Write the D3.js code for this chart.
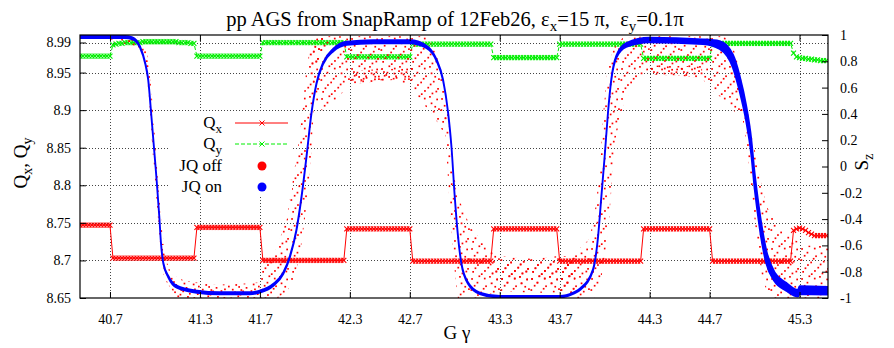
<!DOCTYPE html>
<html>
<head>
<script src="https://d3js.org/d3.v7.min.js"></script>
<style>
body { margin: 0; background: white; }
svg text { font-family: "Liberation Serif", "Times New Roman", serif; }
</style>
</head>
<body>
<div id="chart"></div>
<script>
// ---- tunes, sampled every 0.02 in G gamma starting at 40.50 ----
var g0 = 40.5, dg = 0.02;

var qx = [
  // 40.50 - 40.70
  8.747,8.747,8.747,8.747,8.747,8.747,8.747,8.747,8.747,8.747,8.747,
  // 40.72 - 41.26
  8.703,8.703,8.703,8.703,8.703,8.703,8.703,8.703,8.703,8.703,
  8.703,8.703,8.703,8.703,8.703,8.703,8.703,8.703,8.703,8.703,
  8.703,8.703,8.703,8.703,8.703,8.703,8.703,8.703,
  // 41.28 - 41.70
  8.744,8.744,8.744,8.744,8.744,8.744,8.744,8.744,8.744,8.744,
  8.744,8.744,8.744,8.744,8.744,8.744,8.744,8.744,8.744,8.744,
  8.744,8.744,
  // 41.72 - 42.26
  8.700,8.700,8.700,8.700,8.700,8.700,8.700,8.700,8.700,8.700,
  8.700,8.700,8.700,8.700,8.700,8.700,8.700,8.700,8.700,8.700,
  8.700,8.700,8.700,8.700,8.700,8.700,8.700,8.700,
  // 42.28 - 42.70
  8.742,8.742,8.742,8.742,8.742,8.742,8.742,8.742,8.742,8.742,
  8.742,8.742,8.742,8.742,8.742,8.742,8.742,8.742,8.742,8.742,
  8.742,8.742,
  // 42.72 - 43.24
  8.699,8.699,8.699,8.699,8.699,8.699,8.699,8.699,8.699,8.699,
  8.699,8.699,8.699,8.699,8.699,8.699,8.699,8.699,8.699,8.699,
  8.699,8.699,8.699,8.699,8.699,8.699,8.699,
  // 43.26 - 43.68
  8.742,8.742,8.742,8.742,8.742,8.742,8.742,8.742,8.742,8.742,
  8.742,8.742,8.742,8.742,8.742,8.742,8.742,8.742,8.742,8.742,
  8.742,8.742,
  // 43.70 - 44.24
  8.699,8.699,8.699,8.699,8.699,8.699,8.699,8.699,8.699,8.699,
  8.699,8.699,8.699,8.699,8.699,8.699,8.699,8.699,8.699,8.699,
  8.699,8.699,8.699,8.699,8.699,8.699,8.699,8.699,
  // 44.26 - 44.70
  8.742,8.742,8.742,8.742,8.742,8.742,8.742,8.742,8.742,8.742,
  8.742,8.742,8.742,8.742,8.742,8.742,8.742,8.742,8.742,8.742,
  8.742,8.742,8.742,
  // 44.72 - 45.24
  8.699,8.699,8.699,8.699,8.699,8.699,8.699,8.699,8.699,8.699,
  8.699,8.699,8.699,8.699,8.699,8.699,8.699,8.699,8.699,8.699,
  8.699,8.699,8.699,8.699,8.699,8.699,8.699,
  // 45.26 - 45.48
  8.740,8.742,8.743,8.742,8.740,8.737,8.735,8.733,8.733,8.733,8.733,8.733
];

var qy = [
  // 40.50 - 40.70
  8.972,8.972,8.972,8.972,8.972,8.972,8.972,8.972,8.972,8.972,8.972,
  // 40.72 - 41.26
  8.987,8.988,8.989,8.989,8.990,8.990,8.990,8.990,8.990,8.990,
  8.991,8.991,8.991,8.991,8.991,8.991,8.991,8.991,8.991,8.991,
  8.991,8.991,8.990,8.990,8.990,8.990,8.989,8.989,
  // 41.28 - 41.70
  8.972,8.972,8.972,8.972,8.972,8.972,8.972,8.972,8.972,8.972,
  8.972,8.972,8.972,8.972,8.972,8.972,8.972,8.972,8.972,8.972,
  8.972,8.972,
  // 41.72 - 42.26
  8.990,8.990,8.990,8.990,8.990,8.990,8.990,8.990,8.990,8.990,
  8.990,8.990,8.990,8.990,8.990,8.990,8.990,8.990,8.990,8.990,
  8.990,8.990,8.990,8.990,8.990,8.990,8.990,8.990,
  // 42.28 - 42.70
  8.971,8.971,8.971,8.971,8.971,8.971,8.971,8.971,8.971,8.971,
  8.971,8.971,8.971,8.971,8.971,8.971,8.971,8.971,8.971,8.971,
  8.971,8.971,
  // 42.72 - 43.24
  8.988,8.988,8.988,8.988,8.988,8.988,8.988,8.988,8.988,8.988,
  8.988,8.988,8.988,8.988,8.988,8.988,8.988,8.988,8.988,8.988,
  8.988,8.988,8.988,8.988,8.988,8.988,8.988,
  // 43.26 - 43.68
  8.970,8.970,8.970,8.970,8.970,8.970,8.970,8.970,8.970,8.970,
  8.970,8.970,8.970,8.970,8.970,8.970,8.970,8.970,8.970,8.970,
  8.970,8.970,
  // 43.70 - 44.24
  8.988,8.988,8.988,8.988,8.988,8.988,8.988,8.988,8.988,8.988,
  8.988,8.988,8.988,8.988,8.988,8.988,8.988,8.988,8.988,8.988,
  8.988,8.988,8.988,8.988,8.988,8.988,8.988,8.988,
  // 44.26 - 44.70
  8.969,8.969,8.969,8.969,8.969,8.969,8.969,8.969,8.969,8.969,
  8.969,8.969,8.969,8.969,8.969,8.969,8.969,8.969,8.969,8.969,
  8.969,8.969,8.969,
  // 44.72 - 45.24
  8.989,8.989,8.989,8.989,8.989,8.989,8.989,8.989,8.989,8.989,
  8.989,8.989,8.989,8.989,8.989,8.989,8.989,8.989,8.989,8.989,
  8.989,8.989,8.989,8.989,8.989,8.989,8.989,
  // 45.26 - 45.48
  8.976,8.971,8.970,8.969,8.969,8.968,8.968,8.967,8.967,8.966,8.966,8.966
];

// ---- S_z with jump quads on (blue): G gamma, S_z, half width of the band ----
var onG = [40.50,40.80,40.85,40.90,40.935,40.955,40.975,40.993,41.011,41.029,41.04,41.056,41.09,41.145,
  41.28,41.43,41.63,41.70,41.79,41.856,41.90,41.944,41.978,42.011,42.044,42.078,42.122,42.19,42.28,
  42.456,42.70,42.81,42.878,42.922,42.956,42.978,43.00,43.022,43.044,43.089,43.167,43.30,43.70,43.79,
  43.84,43.922,43.956,43.978,44.00,44.022,44.044,44.078,44.144,44.30,44.656,44.767,44.856,44.90,44.944,
  44.978,45.00,45.022,45.044,45.078,45.133,45.211,45.29,45.30,45.49];
var onS = [0.985,0.985,0.975,0.91,0.785,0.66,0.40,0.15,-0.10,-0.38,-0.58,-0.736,-0.84,-0.914,
  -0.952,-0.964,-0.964,-0.952,-0.90,-0.812,-0.686,-0.483,-0.229,0.075,0.405,0.633,0.785,0.886,0.937,
  0.949,0.949,0.911,0.81,0.658,0.405,0.151,-0.23,-0.534,-0.736,-0.888,-0.964,-0.99,-0.99,-0.964,
  -0.93,-0.787,-0.534,-0.23,0.075,0.405,0.658,0.835,0.924,0.962,0.949,0.924,0.80,0.633,0.405,
  0.151,-0.103,-0.306,-0.483,-0.686,-0.838,-0.914,-0.964,-0.94,-0.945];
var onW = [0.008,0.008,0.008,0.006,0.005,0.005,0.005,0.005,0.005,0.005,0.005,0.005,0.006,0.008,
  0.008,0.008,0.008,0.008,0.008,0.006,0.005,0.005,0.005,0.005,0.005,0.005,0.006,0.01,0.012,
  0.012,0.012,0.01,0.006,0.005,0.005,0.005,0.005,0.005,0.005,0.006,0.006,0.006,0.006,0.006,
  0.006,0.005,0.005,0.005,0.005,0.005,0.005,0.008,0.015,0.018,0.018,0.03,0.05,0.06,0.06,
  0.06,0.06,0.06,0.06,0.05,0.035,0.03,0.025,0.03,0.03];

// ---- S_z with jump quads off (red): outlines of the scattered clouds [G gamma, S_z] ----
var offFall1 = [[40.70,1.0],[40.86,1.0],[40.92,0.95],[40.95,0.85],[40.975,0.6],[40.995,0.3],[41.02,-0.1],
  [41.045,-0.45],[41.07,-0.7],[41.11,-0.82],[41.2,-0.87],[41.4,-0.9],[41.6,-0.89],[41.72,-0.88],[41.72,-1.0],
  [41.15,-1.0],[41.06,-0.85],[41.035,-0.6],[41.01,-0.25],[40.985,0.1],[40.965,0.45],[40.945,0.7],[40.92,0.85],
  [40.87,0.91],[40.78,0.94],[40.70,0.96]];
var offRise1 = [[41.70,-1.0],[41.70,-0.8],[41.80,-0.65],[41.88,-0.4],[41.92,-0.1],[41.96,0.2],[41.99,0.5],
  [42.01,0.75],[42.04,0.92],[42.08,0.98],[42.15,0.98],[42.12,0.9],[42.07,0.75],[42.06,0.5],[42.05,0.2],
  [42.03,-0.1],[42.0,-0.4],[41.97,-0.65],[41.93,-0.85],[41.88,-0.95],[41.82,-1.0]];
var offTop1 = [[42.06,0.5],[42.04,0.85],[42.1,0.99],[42.82,0.99],[42.88,0.85],[42.93,0.6],[42.96,0.4],
  [42.93,0.25],[42.85,0.4],[42.77,0.5],[42.72,0.6],[42.6,0.66],[42.4,0.65],[42.3,0.62],[42.2,0.5],[42.12,0.42]];
var offTop1Edge = [[42.3,0.62],[42.6,0.66],[42.72,0.66],[42.72,0.75],[42.3,0.73]];
var offFall2 = [[42.94,0.45],[42.97,0.2],[42.99,-0.05],[43.03,-0.25],[43.1,-0.45],[43.2,-0.6],[43.3,-0.68],
  [43.5,-0.7],[43.7,-0.68],[43.8,-0.68],[43.8,-0.96],[43.5,-0.96],[43.3,-0.95],[43.15,-1.0],[43.02,-1.0],
  [43.0,-0.8],[42.98,-0.5],[42.96,-0.2],[42.945,0.1],[42.93,0.35]];
var offFall2Core = [[43.25,-0.72],[43.8,-0.72],[43.8,-0.9],[43.25,-0.9]];
var offRise2 = [[43.70,-0.7],[43.8,-0.66],[43.9,-0.55],[43.94,-0.3],[43.97,0.0],[43.99,0.4],[44.02,0.75],
  [44.06,0.9],[44.12,0.98],[44.3,0.99],[44.3,0.72],[44.2,0.65],[44.12,0.45],[44.07,0.2],[44.05,-0.1],
  [44.03,-0.4],[44.0,-0.7],[43.97,-0.9],[43.93,-1.0],[43.75,-1.0],[43.7,-0.95]];
var offTop2 = [[44.3,0.99],[44.8,0.99],[44.86,0.9],[44.9,0.75],[44.93,0.5],[44.92,0.35],[44.88,0.4],
  [44.8,0.5],[44.7,0.6],[44.65,0.67],[44.5,0.69],[44.3,0.7]];
var offTop2Edge = [[44.3,0.7],[44.65,0.68],[44.65,0.76],[44.3,0.77]];
var offFall3 = [[44.85,0.8],[44.9,0.6],[44.95,0.45],[44.99,0.2],[45.03,-0.05],[45.08,-0.3],[45.15,-0.45],
  [45.25,-0.55],[45.35,-0.6],[45.49,-0.6],[45.49,-1.0],[45.1,-1.0],[45.05,-0.85],[45.02,-0.6],[44.99,-0.3],
  [44.96,0.0],[44.93,0.3],[44.89,0.55],[44.85,0.7]];

var offClouds = [
  [offFall1, "dense"], [offRise1, "medium"], [offTop1, "medium"], [offTop1Edge, "dense"],
  [offFall2, "medium"], [offFall2Core, "medium"], [offRise2, "medium"], [offTop2, "medium"],
  [offTop2Edge, "dense"], [offFall3, "medium"]
];

// ---- axes ----
var xTicks = [40.7, 41.3, 41.7, 42.3, 42.7, 43.3, 43.7, 44.3, 44.7, 45.3];
var qTicks = [8.65, 8.7, 8.75, 8.8, 8.85, 8.9, 8.95, 8.99];
var szTicks = [-1, -0.8, -0.6, -0.4, -0.2, 0, 0.2, 0.4, 0.6, 0.8, 1];

var serif = "'Liberation Serif', 'Times New Roman', serif";
var W = 894, H = 348;
var margin = { top: 35, right: 66, bottom: 50, left: 80 };
var width = W - margin.left - margin.right;
var height = H - margin.top - margin.bottom;

var svg = d3.select("#chart").append("svg").attr("width", W).attr("height", H);
var defs = svg.append("defs");
defs.append("clipPath").attr("id", "plotclip")
  .append("rect").attr("width", width).attr("height", height);

// speckle tiles (30x30, jittered) used to paint the red clouds
var tileMedium = [[1.2,3.1],[8.5,0.4],[13.9,2.7],[19.1,1.0],[26.3,3.6],
  [3.8,9.9],[6.6,6.8],[15.2,10.4],[20.7,7.5],[24.4,10.9],
  [0.5,14.2],[10.3,16.6],[12.8,12.9],[22.9,15.8],[28.1,13.3],
  [4.6,22.4],[7.1,19.2],[17.4,21.8],[19.8,18.6],[27.2,23.0],
  [2.3,26.0],[10.9,28.3],[14.1,25.1],[21.6,27.6],[25.5,25.7]];
var tileDense = [[0.8,2.9],[6.7,0.3],[11.2,3.6],[16.9,1.4],[21.3,3.9],[27.5,0.8],
  [3.1,6.2],[5.4,9.1],[13.6,7.7],[18.2,5.3],[22.8,8.6],[25.6,6.4],
  [1.9,13.8],[8.3,11.1],[10.5,14.2],[15.7,12.0],[24.1,13.5],[28.0,10.7],
  [4.2,16.4],[9.6,18.8],[12.3,15.5],[19.0,17.9],[20.6,15.2],[26.9,18.3],
  [0.3,22.6],[7.4,20.5],[14.8,23.7],[17.1,21.0],[23.5,22.2],[28.6,24.0],
  [2.7,27.4],[5.9,25.3],[11.8,28.6],[18.6,26.1],[21.9,28.9],[25.2,26.8]];
var tiles = { dense: tileDense, medium: tileMedium };
Object.keys(tiles).forEach(function(k) {
  var p = defs.append("pattern").attr("id", "dots-" + k)
    .attr("patternUnits", "userSpaceOnUse").attr("width", 30).attr("height", 30);
  p.selectAll("rect").data(tiles[k]).enter().append("rect")
    .attr("x", d => d[0]).attr("y", d => d[1])
    .attr("width", 1.7).attr("height", 1.7).attr("fill", "#ff0000");
});

var chart = svg.append("g").attr("transform", `translate(${margin.left},${margin.top})`);

var x = d3.scaleLinear().domain([40.5, 45.49]).range([0, width]);
var yQ = d3.scaleLinear().domain([8.65, 9.0]).range([height, 0]);
var yS = d3.scaleLinear().domain([-1, 1]).range([height, 0]);

// grid
var grid = chart.append("g").attr("stroke", "#444").attr("stroke-width", 1)
  .attr("stroke-dasharray", "1,2").attr("shape-rendering", "crispEdges");
grid.selectAll(".gx").data(xTicks).enter().append("line")
  .attr("x1", d => Math.round(x(d)) + 0.5).attr("x2", d => Math.round(x(d)) + 0.5)
  .attr("y1", 0).attr("y2", height);
grid.selectAll(".gy").data(qTicks.slice(1)).enter().append("line")
  .attr("y1", d => Math.round(yQ(d)) + 0.5).attr("y2", d => Math.round(yQ(d)) + 0.5)
  .attr("x1", 0).attr("x2", width);

var plot = chart.append("g").attr("clip-path", "url(#plotclip)");

var crossPath = "M-2.5,-2.5L2.5,2.5M-2.5,2.5L2.5,-2.5";
function drawTune(vals, color, dash) {
  var pts = vals.map((v, i) => [g0 + dg * i, v]);
  plot.append("path")
    .attr("d", d3.line().x(d => x(d[0])).y(d => yQ(d[1]))(pts))
    .attr("fill", "none").attr("stroke", color).attr("stroke-width", 1)
    .attr("stroke-dasharray", dash);
  plot.append("g").selectAll("path").data(pts).enter().append("path")
    .attr("d", crossPath)
    .attr("transform", d => `translate(${x(d[0])},${yQ(d[1])})`)
    .attr("fill", "none").attr("stroke", color).attr("stroke-width", 1.1);
}
drawTune(qx, "#ff0000", null);
drawTune(qy, "#00ee00", "4,2");

// JQ off clouds
var cloudLine = d3.line().x(d => x(d[0])).y(d => yS(d[1])).curve(d3.curveLinearClosed);
plot.append("g").selectAll("path").data(offClouds).enter().append("path")
  .attr("d", d => cloudLine(d[0]))
  .attr("fill", d => "url(#dots-" + d[1] + ")");

// JQ on band
var onIdx = d3.range(onG.length);
var band = d3.area()
  .x(i => x(onG[i]))
  .y0(i => yS(onS[i] - onW[i]))
  .y1(i => yS(onS[i] + onW[i]))
  .curve(d3.curveMonotoneX);
plot.append("path").attr("d", band(onIdx))
  .attr("fill", "#0000ff").attr("stroke", "#0000ff").attr("stroke-width", 1.8);

// border
chart.append("rect").attr("width", width).attr("height", height)
  .attr("fill", "none").attr("stroke", "#000").attr("stroke-width", 1.2);

function styleAxis(sel) {
  sel.select(".domain").remove();
  sel.selectAll("text").attr("font-family", serif).attr("font-size", 14).attr("fill", "#000");
  sel.selectAll("line").attr("stroke", "#000");
}
chart.append("g").attr("transform", `translate(0,${height})`)
  .call(d3.axisBottom(x).tickValues(xTicks).tickFormat(d3.format(".1f"))
    .tickSizeInner(-6).tickSizeOuter(0).tickPadding(16))
  .call(styleAxis);
chart.append("g")
  .call(d3.axisTop(x).tickValues(xTicks).tickFormat("").tickSizeInner(-6).tickSizeOuter(0))
  .call(styleAxis);
chart.append("g")
  .call(d3.axisLeft(yQ).tickValues(qTicks).tickFormat(d => String(d))
    .tickSizeInner(-6).tickSizeOuter(0).tickPadding(9))
  .call(styleAxis);
chart.append("g").attr("transform", `translate(${width},0)`)
  .call(d3.axisRight(yS).tickValues(szTicks).tickFormat(d => String(d))
    .tickSizeInner(-6).tickSizeOuter(0).tickPadding(12))
  .call(styleAxis);

// title
var title = svg.append("text").attr("x", 455).attr("y", 26).attr("text-anchor", "middle")
  .attr("font-size", 20.5).style("white-space", "pre");
title.append("tspan").text("pp AGS from SnapRamp of 12Feb26, \u03b5");
title.append("tspan").attr("dy", 5).attr("font-size", 15).text("x");
title.append("tspan").attr("dy", -5).text("=15 \u03c0,  \u03b5");
title.append("tspan").attr("dy", 5).attr("font-size", 15).text("y");
title.append("tspan").attr("dy", -5).text("=0.1\u03c0");

// axis titles
svg.append("text").attr("x", 457).attr("y", 339).attr("text-anchor", "middle")
  .attr("font-size", 19).text("G \u03b3");
var ql = svg.append("text").attr("transform", "translate(27,163) rotate(-90)")
  .attr("text-anchor", "middle").attr("font-size", 19);
ql.append("tspan").text("Q");
ql.append("tspan").attr("dy", 5).attr("font-size", 14).text("x");
ql.append("tspan").attr("dy", -5).text(", Q");
ql.append("tspan").attr("dy", 5).attr("font-size", 14).text("y");
var sl = svg.append("text").attr("transform", "translate(868,162) rotate(-90)")
  .attr("text-anchor", "middle").attr("font-size", 19);
sl.append("tspan").text("S");
sl.append("tspan").attr("dy", 5).attr("font-size", 14).text("z");

// legend
var legend = svg.append("g");
legend.append("rect").attr("x", 168).attr("y", 113).attr("width", 124).attr("height", 83).attr("fill", "white");
var legendRows = [
  { main: "Q", sub: "x", y: 123, kind: "qx" },
  { main: "Q", sub: "y", y: 144, kind: "qy" },
  { main: "JQ off", sub: "", y: 166, kind: "off" },
  { main: "JQ on", sub: "", y: 187, kind: "on" }
];
legendRows.forEach(function(r) {
  var t = legend.append("text").attr("x", 222).attr("y", r.y + 5)
    .attr("text-anchor", "end").attr("font-size", 17);
  t.append("tspan").text(r.main);
  if (r.sub) t.append("tspan").attr("dy", 5).attr("font-size", 13).text(r.sub);
  if (r.kind == "qx" || r.kind == "qy") {
    var c = r.kind == "qx" ? "#ff0000" : "#00ee00";
    legend.append("line").attr("x1", 235).attr("x2", 288).attr("y1", r.y).attr("y2", r.y)
      .attr("stroke", c).attr("stroke-dasharray", r.kind == "qy" ? "4,2" : null);
    legend.append("path").attr("d", crossPath).attr("transform", `translate(262,${r.y})`)
      .attr("stroke", c).attr("fill", "none");
  } else {
    legend.append("circle").attr("cx", 262).attr("cy", r.y).attr("r", 4.5)
      .attr("fill", r.kind == "off" ? "#ff0000" : "#0000ff");
  }
});
</script>
</body>
</html>
